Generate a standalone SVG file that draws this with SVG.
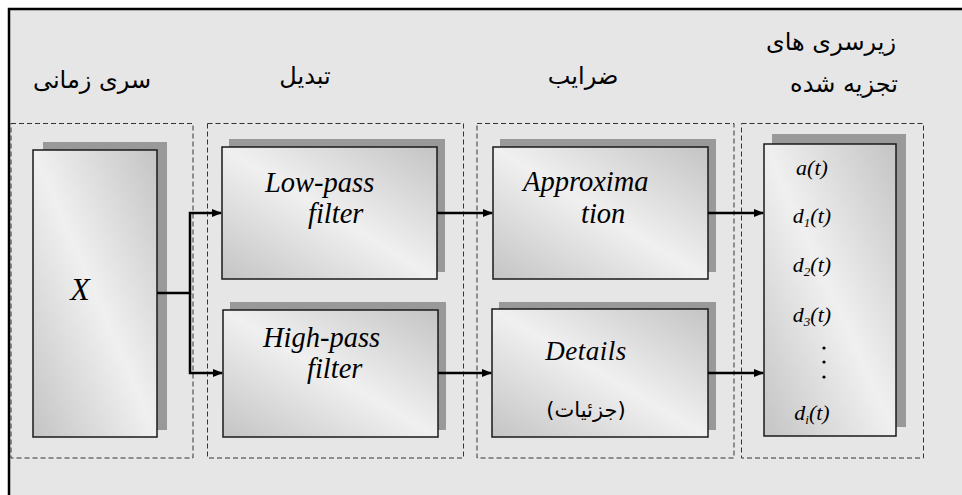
<svg xmlns="http://www.w3.org/2000/svg" width="962" height="495" viewBox="0 0 962 495">
  <defs>
    <linearGradient id="boxFill" x1="0" y1="1" x2="1" y2="0">
      <stop offset="0" stop-color="#c4c4c4"/>
      <stop offset="0.5" stop-color="#f0f0f0"/>
      <stop offset="1" stop-color="#c4c4c4"/>
    </linearGradient>
    <marker id="arrow" markerWidth="10" markerHeight="8" refX="9" refY="4" orient="auto" markerUnits="userSpaceOnUse">
      <path d="M0,0 L10,4 L0,8 Z" fill="#000"/>
    </marker>
  </defs>
  <style>
    .frame { fill: #e6e6e6; stroke: #000; stroke-width: 2.5; }
    .group { fill: none; stroke: #333; stroke-width: 1; stroke-dasharray: 5 3; }
    .shadow { fill: #999; }
    .box { fill: url(#boxFill); stroke: #1a1a1a; stroke-width: 1.5; }
    .fa { font-family: "DejaVu Sans", sans-serif; font-size: 24px; fill: #000; text-anchor: middle; }
    .lat { font-family: "Liberation Serif", "Times New Roman", "DejaVu Serif", serif; font-style: italic; font-size: 28.5px; fill: #000; }
    .big { font-size: 32px; text-anchor: middle; }
    .mid { text-anchor: middle; font-size: 27px; }
    .small { font-size: 21px; }
    .sig { font-family: "Liberation Serif", "Times New Roman", "DejaVu Serif", serif; font-style: italic; font-size: 22px; fill: #000; text-anchor: middle; }
    .sub { font-size: 13px; }
    .wire { fill: none; stroke: #000; stroke-width: 2.5; }
  </style>

  <rect x="0" y="0" width="962" height="495" fill="#fff"/>
  <rect class="frame" x="9" y="9" width="970" height="500"/>

  <!-- column titles -->
  <text class="fa" x="92" y="88">سری زمانی</text>
  <text class="fa" x="305" y="84">تبدیل</text>
  <text class="fa" x="583" y="84">ضرایب</text>
  <text class="fa" x="831" y="50">زیرسری های</text>
  <text class="fa" x="844" y="92">تجزیه شده</text>

  <!-- dashed column frames -->
  <g id="columns">
    <rect class="group" x="11" y="123.5" width="182" height="334.5"/>
    <rect class="group" x="207.5" y="123.5" width="256" height="334.5"/>
    <rect class="group" x="477" y="123.5" width="257" height="334.5"/>
    <rect class="group" x="741.5" y="123.5" width="182" height="334.5"/>
  </g>

  <g id="node-x">
    <rect class="shadow" x="43" y="142" width="124" height="288"/>
    <rect class="box" x="33" y="150" width="124" height="287"/>
    <text class="lat big" x="80" y="300">X</text>
  </g>

  <g id="node-lowpass">
    <rect class="shadow" x="229" y="139" width="216" height="133"/>
    <rect class="box" x="222" y="147" width="215" height="132"/>
    <text class="lat" x="265" y="192">Low-pass</text>
    <text class="lat" x="308" y="223">filter</text>
  </g>

  <g id="node-highpass">
    <rect class="shadow" x="230" y="302" width="216" height="128"/>
    <rect class="box" x="223" y="310" width="215" height="127"/>
    <text class="lat" x="263" y="347">High-pass</text>
    <text class="lat" x="307" y="378">filter</text>
  </g>

  <g id="node-approx">
    <rect class="shadow" x="500" y="139" width="216" height="133"/>
    <rect class="box" x="493" y="147" width="215" height="132"/>
    <text class="lat" x="523" y="191">Approxima</text>
    <text class="lat" x="581" y="223">tion</text>
  </g>

  <g id="node-details">
    <rect class="shadow" x="499" y="302" width="217" height="128"/>
    <rect class="box" x="492" y="309" width="216" height="128"/>
    <text class="lat mid" x="586" y="360" letter-spacing="0.5">Details</text>
    <text class="fa small" x="586" y="417">(جزئیات)</text>
  </g>

  <g id="node-subseries">
    <rect class="shadow" x="772" y="134" width="134" height="293"/>
    <rect class="box" x="764" y="144" width="132" height="292"/>
    <text class="sig" x="812" y="175">a(t)</text>
    <text class="sig" x="812" y="223">d<tspan class="sub" dy="4">1</tspan><tspan dy="-4">(t)</tspan></text>
    <text class="sig" x="812" y="272">d<tspan class="sub" dy="4">2</tspan><tspan dy="-4">(t)</tspan></text>
    <text class="sig" x="812" y="322">d<tspan class="sub" dy="4">3</tspan><tspan dy="-4">(t)</tspan></text>
    <circle cx="824" cy="348" r="1.6" fill="#000"/>
    <circle cx="824" cy="362" r="1.6" fill="#000"/>
    <circle cx="824" cy="377" r="1.6" fill="#000"/>
    <text class="sig" x="812" y="420">d<tspan class="sub" dy="4">i</tspan><tspan dy="-4">(t)</tspan></text>
  </g>

  <g id="connectors">
    <path class="wire" d="M157,293 H190 V213 H221" marker-end="url(#arrow)"/>
    <path class="wire" d="M190,293 V373 H222" marker-end="url(#arrow)"/>
    <path class="wire" d="M437,213 H492" marker-end="url(#arrow)"/>
    <path class="wire" d="M438,373 H491" marker-end="url(#arrow)"/>
    <path class="wire" d="M708,213 H763" marker-end="url(#arrow)"/>
    <path class="wire" d="M708,373 H763" marker-end="url(#arrow)"/>
  </g>
</svg>
